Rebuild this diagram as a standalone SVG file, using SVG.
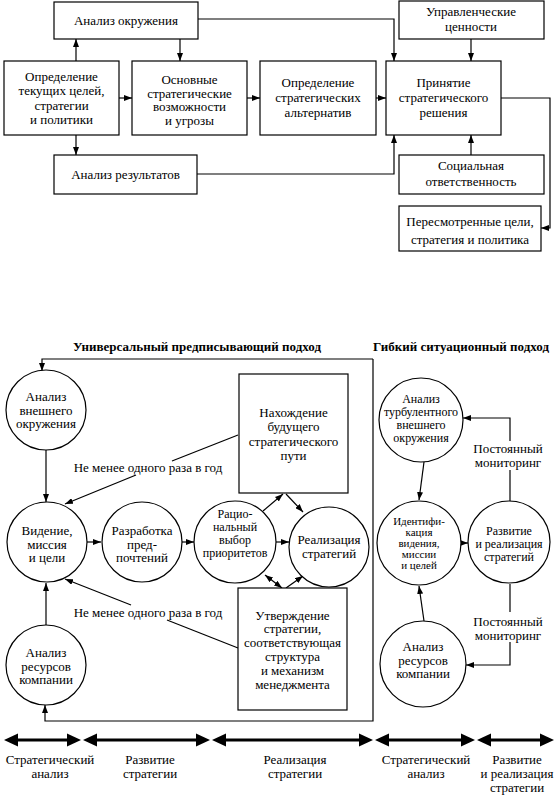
<svg xmlns="http://www.w3.org/2000/svg" width="557" height="795" viewBox="0 0 557 795" font-family="'Liberation Serif', 'Times New Roman', Tinos, 'DejaVu Serif', 'Noto Serif', FreeSerif, serif">
<defs>
<style>
.b{fill:#fff;stroke:#000;stroke-width:1.2}
.t{font-size:13px;text-anchor:middle;fill:#000}
.s{font-size:11px}
.m{font-size:12px}
.h{font-size:13px;font-weight:bold;text-anchor:middle;fill:#000}
.c{fill:none;stroke:#000;stroke-width:1.2}
.a{marker-end:url(#ar)}
.d{marker-start:url(#ar);marker-end:url(#ar)}
.tl{stroke:#000;stroke-width:3}
</style>
<marker id="ar" markerUnits="userSpaceOnUse" markerWidth="8" markerHeight="6" refX="8" refY="3" orient="auto-start-reverse">
<path d="M0,0 L8,3 L0,6 z" fill="#000"/>
</marker>
</defs>
<rect width="557" height="795" fill="#fff"/>

<g id="connectors">
<path class="c a" d="M76,61 V39"/>
<path class="c a" d="M180,39 V61"/>
<path class="c a" d="M76,135 V155"/>
<path class="c a" d="M119,98 H132"/>
<path class="c a" d="M247,98 H260"/>
<path class="c a" d="M376,98 H386"/>
<path class="c a" d="M198,19 H394 V61"/>
<path class="c a" d="M471,39 V61"/>
<path class="c a" d="M197,174 H394 V135"/>
<path class="c a" d="M471,155 V135"/>
<path class="c a" d="M501,98 H550 V228 H541"/>

<path class="c a" d="M373,359 H42 V371"/>
<path class="c a" d="M373,359 V721 H45 V705"/>
<path class="c a" d="M46,450 V502"/>
<path class="c a" d="M46,625 V583"/>
<path class="c a" d="M87,542 H101"/>
<path class="c a" d="M182,542 H194"/>
<path class="c a" d="M276,542 H289"/>
<path class="c a" d="M263,511 L283,494"/>
<path class="c a" d="M286,494 L303,512"/>
<path class="c d" d="M265,575 L282,588"/>
<path class="c a" d="M286,588 L303,576"/>
<path class="c" d="M238,435 L172,461"/>
<path class="c a" d="M136,475 L65,504"/>
<path class="c" d="M238,648 L167,620"/>
<path class="c a" d="M131,605 L65,579"/>

<path class="c a" d="M424,462 L419,500"/>
<path class="c a" d="M461,543 H468"/>
<path class="c" d="M510,501 V470"/>
<path class="c a" d="M510,441 V418 H463"/>
<path class="c" d="M510,584 V612"/>
<path class="c a" d="M510,642 V665 H466"/>
<path class="c a" d="M424,621 L419,586"/>

<g id="timeline">
<line class="tl" x1="16" y1="740" x2="69" y2="740"/>
<polygon points="4,740 18,733.5 18,746.5"/><polygon points="81,740 67,733.5 67,746.5"/>
<line class="tl" x1="95" y1="740" x2="198" y2="740"/>
<polygon points="83,740 97,733.5 97,746.5"/><polygon points="210,740 196,733.5 196,746.5"/>
<line class="tl" x1="224" y1="740" x2="361" y2="740"/>
<polygon points="212,740 226,733.5 226,746.5"/><polygon points="373,740 359,733.5 359,746.5"/>
<line class="tl" x1="387" y1="740" x2="463" y2="740"/>
<polygon points="375,740 389,733.5 389,746.5"/><polygon points="475,740 461,733.5 461,746.5"/>
<line class="tl" x1="489" y1="740" x2="542" y2="740"/>
<polygon points="477,740 491,733.5 491,746.5"/><polygon points="554,740 540,733.5 540,746.5"/>
</g>
</g>

<g id="n1"><rect class="b" x="54" y="2" width="144" height="37"/><text class="t" x="126" y="25">Анализ окружения</text></g>
<g id="n2"><rect class="b" x="399" y="1" width="145" height="38"/><text class="t" x="471" y="16">Управленческие</text><text class="t" x="471" y="31">ценности</text></g>
<g id="n3"><rect class="b" x="4" y="61" width="115" height="74"/><text class="t" x="61.5" y="81">Определение</text><text class="t" x="61.5" y="95">текущих целей,</text><text class="t" x="61.5" y="109.5">стратегии</text><text class="t" x="61.5" y="124">и политики</text></g>
<g id="n4"><rect class="b" x="132" y="61" width="115" height="74"/><text class="t" x="189.5" y="84">Основные</text><text class="t" x="189.5" y="97.5">стратегические</text><text class="t" x="189.5" y="111">возможности</text><text class="t" x="189.5" y="124.5">и угрозы</text></g>
<g id="n5"><rect class="b" x="260" y="61" width="116" height="74"/><text class="t" x="318" y="86.5">Определение</text><text class="t" x="318" y="101.5">стратегических</text><text class="t" x="318" y="116.5">альтернатив</text></g>
<g id="n6"><rect class="b" x="386" y="61" width="115" height="74"/><text class="t" x="443.5" y="86.5">Принятие</text><text class="t" x="443.5" y="101.5">стратегического</text><text class="t" x="443.5" y="117">решения</text></g>
<g id="n7"><rect class="b" x="54" y="155" width="143" height="39"/><text class="t" x="125.5" y="179">Анализ результатов</text></g>
<g id="n8"><rect class="b" x="399" y="155" width="145" height="39"/><text class="t" x="471" y="170">Социальная</text><text class="t" x="471" y="186">ответственность</text></g>
<g id="n9"><rect class="b" x="399" y="206" width="142" height="45"/><text class="t" x="470" y="225.5">Пересмотренные цели,</text><text class="t" x="470" y="243.5">стратегия и политика</text></g>

<text class="h" x="197" y="351">Универсальный предписывающий подход</text>
<text class="h" x="461" y="351">Гибкий ситуационный подход</text>

<g id="c1"><circle class="b" cx="46" cy="410" r="40"/><text class="t" x="46" y="401">Анализ</text><text class="t" x="46" y="414.5">внешнего</text><text class="t" x="46" y="428">окружения</text></g>
<g id="c2"><circle class="b" cx="47" cy="542" r="40"/><text class="t" x="47" y="535">Видение,</text><text class="t" x="47" y="548.5">миссия</text><text class="t" x="47" y="562">и цели</text></g>
<g id="c3"><circle class="b" cx="142" cy="542" r="40"/><text class="t" x="142" y="535">Разработка</text><text class="t" x="142" y="548.5">пред-</text><text class="t" x="142" y="562">почтений</text></g>
<g id="c4"><circle class="b" cx="235" cy="542" r="41"/><text class="t m" x="235" y="518">Рацио-</text><text class="t m" x="235" y="531">нальный</text><text class="t m" x="235" y="544">выбор</text><text class="t m" x="235" y="557">приоритетов</text></g>
<g id="c5"><circle class="b" cx="329" cy="547" r="40"/><text class="t" x="329" y="544">Реализация</text><text class="t" x="329" y="558">стратегий</text></g>
<g id="b1"><rect class="b" x="239" y="374" width="109" height="119"/><text class="t" x="293.5" y="417">Нахождение</text><text class="t" x="293.5" y="431">будущего</text><text class="t" x="293.5" y="446">стратегического</text><text class="t" x="293.5" y="460">пути</text></g>
<g id="b2"><rect class="b" x="238" y="588" width="109" height="122"/><text class="t" x="292.5" y="619.5">Утверждение</text><text class="t" x="292.5" y="633.3">стратегии,</text><text class="t" x="292.5" y="647.1">соответствующая</text><text class="t" x="292.5" y="660.9">структура</text><text class="t" x="292.5" y="674.7">и механизм</text><text class="t" x="292.5" y="688.5">менеджмента</text></g>
<g id="c6"><circle class="b" cx="46" cy="665" r="40"/><text class="t" x="46" y="657">Анализ</text><text class="t" x="46" y="670.5">ресурсов</text><text class="t" x="46" y="684">компании</text></g>
<text class="t" x="148" y="472">Не менее одного раза в год</text>
<text class="t" x="148" y="617">Не менее одного раза в год</text>

<g id="c7"><circle class="b" cx="421" cy="420" r="42"/><text class="t m" x="421" y="403">Анализ</text><text class="t m" x="421" y="416">турбулентного</text><text class="t m" x="421" y="429">внешнего</text><text class="t m" x="421" y="442">окружения</text></g>
<g id="c8"><circle class="b" cx="419" cy="543" r="42"/><text class="t s" x="419" y="525">Идентифи-</text><text class="t s" x="419" y="536">кация</text><text class="t s" x="419" y="547">видения,</text><text class="t s" x="419" y="558">миссии</text><text class="t s" x="419" y="569">и целей</text></g>
<g id="c9"><circle class="b" cx="509" cy="542" r="41"/><text class="t m" x="509" y="535">Развитие</text><text class="t m" x="509" y="548">и реализация</text><text class="t m" x="509" y="561">стратегий</text></g>
<g id="c10"><circle class="b" cx="423" cy="664" r="43"/><text class="t" x="423" y="651">Анализ</text><text class="t" x="423" y="664.5">ресурсов</text><text class="t" x="423" y="678">компании</text></g>
<text class="t" x="508" y="453">Постоянный</text>
<text class="t" x="508" y="467">мониторинг</text>
<text class="t" x="508" y="626">Постоянный</text>
<text class="t" x="508" y="640">мониторинг</text>

<g id="labels">
<text class="t" x="50" y="764">Стратегический</text><text class="t" x="50" y="778">анализ</text>
<text class="t" x="150" y="764">Развитие</text><text class="t" x="150" y="778">стратегии</text>
<text class="t" x="295" y="764">Реализация</text><text class="t" x="295" y="778">стратегии</text>
<text class="t" x="426" y="764">Стратегический</text><text class="t" x="426" y="778">анализ</text>
<text class="t" x="517" y="764">Развитие</text><text class="t" x="517" y="778">и реализация</text><text class="t" x="517" y="792">стратегии</text>
</g>
</svg>
